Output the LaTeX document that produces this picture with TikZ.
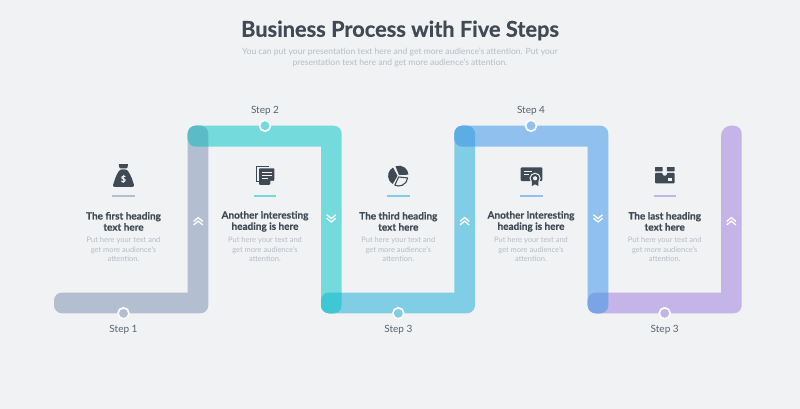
\documentclass[tikz,border=0pt]{standalone}
\usepackage{fontspec}
\setmainfont{Lato}[BoldFeatures={FakeBold=0.5}]
\definecolor{bgc}{HTML}{F0F2F4}
\definecolor{ink}{HTML}{3F4A55}
\definecolor{soft}{HTML}{B7BDC5}
\definecolor{stepc}{HTML}{59636D}
\definecolor{greyb}{HTML}{B3BFD0}
\definecolor{tealb}{HTML}{74DADC}
\definecolor{cyanb}{HTML}{80CDE6}
\definecolor{blueb}{HTML}{8FC0EE}
\definecolor{purpb}{HTML}{C5B4E8}
\definecolor{ovA}{HTML}{5BBCC8}
\definecolor{ovB}{HTML}{3FC8D4}
\definecolor{ovC}{HTML}{5CADE4}
\definecolor{ovD}{HTML}{7BA4E6}
\newcommand\segA{(187.7,292.5) [rounded corners=8pt] -- (54,292.5) -- (54,313.3) -- (208.3,313.3) -- (208.3,125.7) -- (187.7,125.7) [sharp corners] -- cycle}
\newcommand\segB{(321,146.7) [rounded corners=8pt] -- (187.7,146.7) -- (187.7,125.7) -- (341.7,125.7) -- (341.7,313.3) -- (321,313.3) [sharp corners] -- cycle}
\newcommand\segC{(454.3,292.5) [rounded corners=8pt] -- (321,292.5) -- (321,313.3) -- (475,313.3) -- (475,125.7) -- (454.3,125.7) [sharp corners] -- cycle}
\newcommand\segD{(587.7,146.7) [rounded corners=8pt] -- (454.3,146.7) -- (454.3,125.7) -- (608.3,125.7) -- (608.3,313.3) -- (587.7,313.3) [sharp corners] -- cycle}
\newcommand\segE{(721,292.5) [rounded corners=8pt] -- (587.7,292.5) -- (587.7,313.3) -- (741.7,313.3) -- (741.7,125.7) [rounded corners=10pt] -- (721,125.7) [sharp corners] -- cycle}
\tikzset{
  x=1pt,y=-1pt,
  titletext/.style={font=\bfseries\fontsize{21.8}{24}\selectfont,text=ink,inner sep=0,align=center},
  subtext/.style={font=\fontsize{8.57}{11}\selectfont,text=soft,inner sep=0,align=center},
  headtext/.style={font=\bfseries\fontsize{10}{11.2}\selectfont,text=ink,inner sep=0,align=center},
  bodytext/.style={font=\fontsize{7.5}{9.4}\selectfont,text=soft,inner sep=0,align=center},
  steplabel/.style={font=\fontsize{10}{12}\selectfont,text=stepc,inner sep=0},
  marker/.style={circle,draw=white!70!bgc,line width=1.7pt,minimum size=11pt,inner sep=0},
  chev/.style={draw=white!92!bgc,line width=1.3pt,line cap=butt,line join=miter},
  rulebar/.style={line width=1.5pt},
}
\newcommand\chevs[2]{%
  \draw[chev] (#1-4.6,220-0.2+#2*1.6) -- (#1,220-0.2-#2*2.2) -- (#1+4.6,220-0.2+#2*1.6);
  \draw[chev] (#1-4.6,220-0.2+#2*5.1) -- (#1,220-0.2+#2*1.3) -- (#1+4.6,220-0.2+#2*5.1);
}
\begin{document}
\begin{tikzpicture}
\useasboundingbox (0,0) rectangle (800,409);
\fill[bgc] (0,0) rectangle (800,409);
\node[titletext] (title) at (400,30.5) {Business Process with Five Steps};
\node[subtext] (sub) at (400,58) {You can put your presentation text here and get more audience's attention. Put your\\presentation text here and get more audience's attention.};
\fill[greyb] \segA;
\fill[tealb] \segB;
\fill[cyanb] \segC;
\fill[blueb] \segD;
\fill[purpb] \segE;
\begin{scope}\clip \segA; \fill[ovA] \segB; \end{scope}
\begin{scope}\clip \segB; \fill[ovB] \segC; \end{scope}
\begin{scope}\clip \segC; \fill[ovC] \segD; \end{scope}
\begin{scope}\clip \segD; \fill[ovD] \segE; \end{scope}
\chevs{198.2}{1}
\chevs{331.3}{-1}
\chevs{464.6}{1}
\chevs{598}{-1}
\chevs{731.3}{1}
\node[marker,fill=greyb] (m1) at (123.5,313.3) {};
\node[marker,fill=tealb] (m2) at (265,125.7) {};
\node[marker,fill=cyanb] (m3) at (398.3,313.3) {};
\node[marker,fill=blueb] (m4) at (531,125.7) {};
\node[marker,fill=purpb] (m5) at (664.7,313.3) {};
\node[steplabel] (s1) at (123.5,330) {Step 1};
\node[steplabel] (s2) at (265,110.5) {Step 2};
\node[steplabel] (s3) at (398.3,330) {Step 3};
\node[steplabel] (s4) at (531,110.5) {Step 4};
\node[steplabel] (s5) at (664.7,330) {Step 3};
\draw[rulebar,greyb] (112.3,196) -- (134.8,196);
\draw[rulebar,tealb] (254,196) -- (276,196);
\draw[rulebar,cyanb] (387.3,196) -- (409.8,196);
\draw[rulebar,blueb] (520,196) -- (542.5,196);
\draw[rulebar,purpb] (653.5,196) -- (676,196);
\node[headtext] (h1) at (123.5,221.4) {The first heading\\text here};
\node[headtext] (h2) at (265,221.4) {Another interesting\\heading is here};
\node[headtext] (h3) at (398.3,221.4) {The third heading\\text here};
\node[headtext] (h4) at (531,221.4) {Another interesting\\heading is here};
\node[headtext] (h5) at (664.7,221.4) {The last heading\\text here};
\node[bodytext] (b1) at (123.5,249.5) {Put here your text and\\get more audience's\\attention.};
\node[bodytext] (b2) at (265,249.5) {Put here your text and\\get more audience's\\attention.};
\node[bodytext] (b3) at (398.3,249.5) {Put here your text and\\get more audience's\\attention.};
\node[bodytext] (b4) at (531,249.5) {Put here your text and\\get more audience's\\attention.};
\node[bodytext] (b5) at (664.7,249.5) {Put here your text and\\get more audience's\\attention.};
% icon 1: money bag
\fill[ink,rounded corners=0.6pt] (118.6,164) -- (128.2,164) -- (127.2,168.3) -- (119.6,168.3) -- cycle;
\fill[ink,rounded corners=2.2pt] (119.8,169.4) -- (127,169.4) -- (131,176) -- (134.6,186.8) -- (112.4,186.8) -- (116,176) -- cycle;
\node[inner sep=0,text=bgc,font=\bfseries\fontsize{8.5}{9}\selectfont] (dollar) at (123.4,179) {\$};
% icon 2: documents
\draw[ink,line width=1.1pt] (258.5,181.5) -- (256.9,181.5) -- (256.9,166.6) -- (269,166.6);
\fill[ink,rounded corners=0.6pt] (259.2,168.4) -- (274.3,168.4) -- (274.3,180) -- (269.5,184.8) -- (259.2,184.8) -- cycle;
\draw[bgc,line width=0.9pt] (262.3,172.6) -- (271.5,172.6) (262.3,175.6) -- (271.5,175.6) (262.3,178.6) -- (267.5,178.6);
\fill[bgc] (274.6,180.9) -- (270.4,180.9) -- (270.4,185.1) -- cycle;
% icon 3: pie
\fill[ink] (397.5,175.8) -- ++(118:9.4pt) arc[start angle=118,delta angle=122,radius=9.4pt] -- cycle;
\fill[ink] (399,175) -- ++(112:9.4pt) arc[start angle=112,delta angle=-110,radius=9.4pt] -- cycle;
\draw[ink,line width=1.1pt,line join=round] (398.7,177) -- ++(-6:9pt) arc[start angle=-6,delta angle=-110,radius=9pt] -- cycle;
% icon 4: certificate
\fill[ink,rounded corners=1pt] (520.7,167.3) rectangle (542.3,181);
\draw[bgc,line width=1pt] (523.7,171) -- (532,171) (523.7,174.3) -- (529,174.3);
\fill[bgc] (535.1,178.3) circle[radius=5.6pt];
\fill[ink] (531.8,181) -- (531.8,186) -- (535.1,184.3) -- (538.4,186) -- (538.4,181) -- cycle;
\fill[ink] (535.1,178.3) circle[radius=4.4pt];
\fill[bgc] (535.1,178.3) circle[radius=2.1pt];
% icon 5: box
\fill[ink,rounded corners=0.5pt] (655,167) rectangle (662.6,171.3);
\fill[ink,rounded corners=0.5pt] (666.8,167) rectangle (674.6,171.3);
\fill[ink,rounded corners=1pt] (655,172.8) -- (662.6,172.8) -- (662.6,175.5) -- (666.8,175.5) -- (666.8,172.8) -- (674.6,172.8) -- (674.6,183.4) -- (655,183.4) -- cycle;
\fill[bgc] (667.6,177.6) rectangle (672.4,180.6);
\end{tikzpicture}
\end{document}
